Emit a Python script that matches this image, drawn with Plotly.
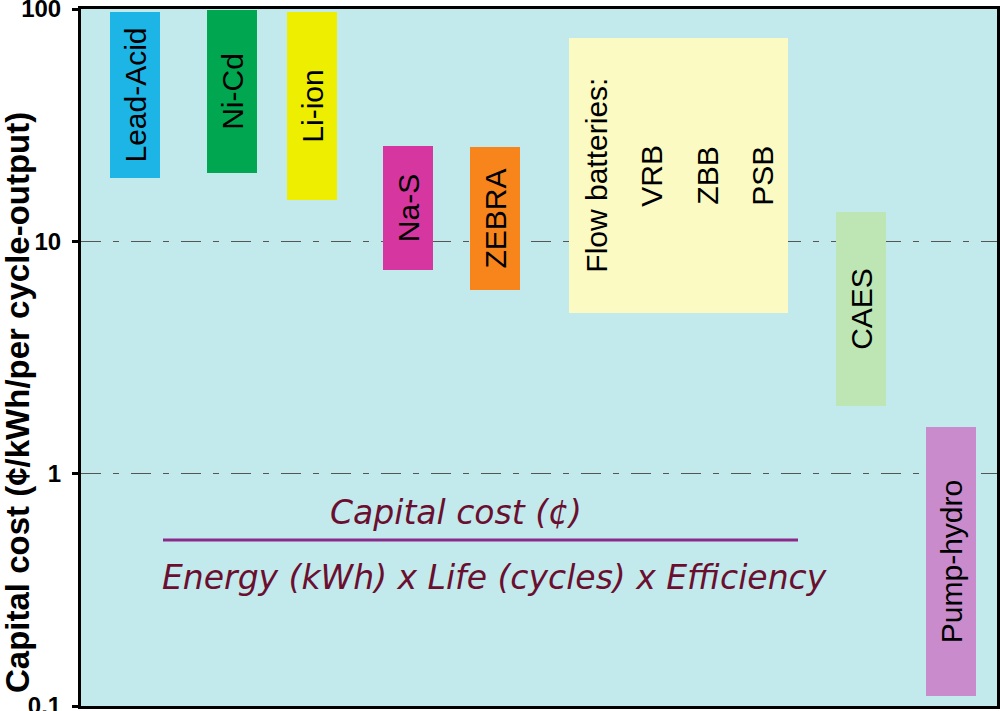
import plotly.graph_objects as go
import math

# ---------------- data ----------------
technologies = ["Lead-Acid", "Ni-Cd", "Li-ion", "Na-S", "ZEBRA", "Flow batteries", "CAES", "Pump-hydro"]
cost_low = [18.7, 19.7, 15.0, 7.5, 6.2, 4.9, 1.95, 0.11]
cost_high = [97, 99, 97, 25.7, 25.5, 75, 13.4, 1.59]
bar_labels = ["Lead-Acid", "Ni-Cd", "Li-ion", "Na-S", "ZEBRA", "", "CAES", "Pump-hydro"]
flow_labels = ["Flow batteries:", "VRB", "ZBB", "PSB"]
tick_values = [0.1, 1, 10, 100]
tick_labels = ["0.1", "1", "10", "100"]
formula_top = "Capital cost (¢)"
formula_bottom = "Energy (kWh) x Life (cycles) x Efficiency"
y_title = "Capital cost (¢/kWh/per cycle-output)"

# ---------------- layout / style ----------------
colors = ["#1db5e6", "#00a650", "#eeee00", "#d6369f", "#f7851c", "#fafac2", "#bde6b4", "#c98bcc"]
x_centers = [54, 151, 231, 326.5, 414, 597.5, 780, 870]
x_widths = [50, 50, 50, 50, 50, 219, 50, 50]
flow_label_x = [516, 571, 627, 682]
FONT = "Liberation Sans, Arial, sans-serif"

fig = go.Figure()
fig.add_trace(go.Bar(
    x=x_centers,
    y=[h - l for h, l in zip(cost_high, cost_low)],
    base=cost_low,
    width=x_widths,
    marker=dict(color=colors, line=dict(width=0)),
    text=bar_labels,
    textposition="inside",
    insidetextanchor="middle",
    textangle=-90,
    constraintext="none",
    textfont=dict(family=FONT, size=30, color="black"),
    hoverinfo="skip",
    showlegend=False,
))

flow_idx = technologies.index("Flow batteries")
flow_mid = (math.log10(cost_low[flow_idx]) + math.log10(cost_high[flow_idx])) / 2
annotations = []
for lx, lab in zip(flow_label_x, flow_labels):
    annotations.append(dict(x=lx, y=flow_mid, xref="x", yref="y", text=lab, showarrow=False,
                            xanchor="center", yanchor="middle",
                            textangle=-90, font=dict(family=FONT, size=30, color="black")))

# formula
PL, PR, PT, PB = 81, 997, 9, 706
def px(x):
    return (x - PL) / (PR - PL)
def py(y):
    return (PB - y) / (PB - PT)

formula_font = dict(family="Comic Sans MS, DejaVu Sans, sans-serif", size=33, color="#6b0f30", style="italic")
annotations.append(dict(x=px(456), y=py(512), xref="paper", yref="paper", text=formula_top,
                        xanchor="center", yanchor="middle", showarrow=False, font=formula_font))
annotations.append(dict(x=px(494), y=py(577), xref="paper", yref="paper", text=formula_bottom,
                        xanchor="center", yanchor="middle", showarrow=False, font=formula_font))
annotations.append(dict(x=px(17), y=py(403), xref="paper", yref="paper", text=y_title,
                        xanchor="center", yanchor="middle", showarrow=False, textangle=-90,
                        font=dict(family=FONT, size=33, color="black", weight="bold")))

fig.update_layout(
    width=1000, height=711,
    margin=dict(l=PL, r=1000 - PR, t=PT, b=711 - PB, autoexpand=False),
    paper_bgcolor="white",
    plot_bgcolor="#c2eaec",
    bargap=0,
    annotations=annotations,
    shapes=[dict(type="line", xref="paper", yref="paper", x0=px(163), x1=px(798),
                 y0=py(540), y1=py(540), line=dict(color="#8a2b8c", width=3))],
)
fig.update_xaxes(range=[0, PR - PL], showgrid=False, zeroline=False, showticklabels=False,
                 ticks="", showline=True, linecolor="black", linewidth=3, mirror=True,
                 automargin=False)
fig.update_yaxes(type="log", range=[-1, 2], tickvals=tick_values, ticktext=tick_labels,
                 ticks="outside", ticklen=6, tickwidth=3, tickcolor="black",
                 ticklabelstandoff=6, ticklabeloverflow="allow",
                 tickfont=dict(family=FONT, size=24, color="black", weight="bold"),
                 showline=True, linecolor="black", linewidth=3, mirror=True,
                 showgrid=True, gridcolor="#555555", gridwidth=1, griddash="20px,12px,6px,12px",
                 zeroline=False, automargin=False)

fig.write_html("out.html", config={"displayModeBar": False},
               post_script="document.body.style.margin='0';")
